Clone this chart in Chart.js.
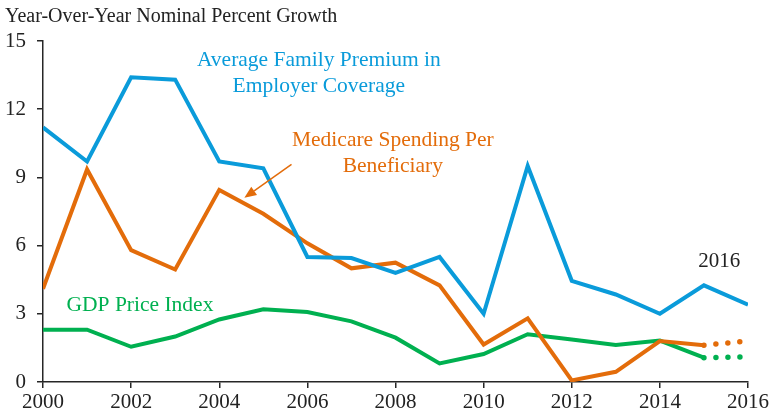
<!DOCTYPE html>
<html>
<head>
<meta charset="utf-8">
<script src="https://cdn.jsdelivr.net/npm/chart.js@4"></script>
<style>
  html, body { margin: 0; padding: 0; background: #fff; }
  #wrap { width: 771px; height: 419px; position: relative; }
</style>
</head>
<body>
<div id="wrap"><canvas id="chart" width="771" height="419"></canvas></div>
<script>
// --- Data ---
const years = [2000, 2001, 2002, 2003, 2004, 2005, 2006, 2007, 2008, 2009, 2010, 2011, 2012, 2013, 2014, 2015, 2016];
const familyPremium = [11.2, 9.7, 13.4, 13.3, 9.7, 9.4, 5.5, 5.45, 4.8, 5.5, 3.0, 9.5, 4.45, 3.85, 3.0, 4.25, 3.4];
const medicareSpending = [4.1, 9.35, 5.8, 4.95, 8.45, 7.4, 6.1, 5.0, 5.25, 4.25, 1.65, 2.8, 0.07, 0.45, 1.8, 1.62, null];
const medicareProjected = [null, null, null, null, null, null, null, null, null, null, null, null, null, null, null, 1.62, 1.8];
const gdpPriceIndex = [2.3, 2.3, 1.55, 2.0, 2.75, 3.2, 3.08, 2.67, 1.95, 0.82, 1.23, 2.1, 1.87, 1.63, 1.82, 1.07, null];
const gdpProjected = [null, null, null, null, null, null, null, null, null, null, null, null, null, null, null, 1.07, 1.1];
const yTicks = [0, 3, 6, 9, 12, 15];
const xTicks = [2000, 2002, 2004, 2006, 2008, 2010, 2012, 2014, 2016];

const BLUE = '#0A9BDA';
const ORANGE = '#E36C0A';
const GREEN = '#00B050';
const AXIS = '#262626';
const FONT = '"Liberation Serif", "Times New Roman", serif';

const toPoints = (arr) => years.map((x, i) => ({ x: x, y: arr[i] }));

// text labels, placed in data units (year, percent)
const notes = [
    { text: 'Average Family Premium in', x: 2006.26, y: 14.15, color: BLUE, size: 21.5 },
    { text: 'Employer Coverage', x: 2006.26, y: 13.0, color: BLUE, size: 21.5 },
    { text: 'Medicare Spending Per', x: 2007.94, y: 10.62, color: ORANGE, size: 21.5 },
    { text: 'Beneficiary', x: 2007.94, y: 9.5, color: ORANGE, size: 21.5 },
    { text: 'GDP Price Index', x: 2002.2, y: 3.35, color: GREEN, size: 21.5 },
    { text: '2016', x: 2015.35, y: 5.3, color: '#222', size: 21 }
];
const arrow = { from: [2005.64, 9.57], to: [2004.57, 8.1], color: ORANGE };

const annotationPlugin = {
    id: 'annotations',
    afterDraw(chart) {
        const ctx = chart.ctx;
        const xs = chart.scales.x, ys = chart.scales.y;
        ctx.save();
        // title
        ctx.font = '20px ' + FONT;
        ctx.fillStyle = '#222';
        ctx.textAlign = 'left';
        ctx.textBaseline = 'alphabetic';
        ctx.fillText('Year-Over-Year Nominal Percent Growth', 5, 22);

        ctx.textAlign = 'center';
        ctx.textBaseline = 'middle';
        notes.forEach(n => {
            ctx.font = n.size + 'px ' + FONT;
            ctx.fillStyle = n.color;
            ctx.fillText(n.text, xs.getPixelForValue(n.x), ys.getPixelForValue(n.y));
        });

        // arrow
        const x1 = xs.getPixelForValue(arrow.from[0]), y1 = ys.getPixelForValue(arrow.from[1]);
        const x2 = xs.getPixelForValue(arrow.to[0]), y2 = ys.getPixelForValue(arrow.to[1]);
        const ang = Math.atan2(y2 - y1, x2 - x1);
        const headLen = 12, headW = 5;
        const bx = x2 - headLen * Math.cos(ang), by = y2 - headLen * Math.sin(ang);
        ctx.strokeStyle = arrow.color;
        ctx.fillStyle = arrow.color;
        ctx.lineWidth = 1.5;
        ctx.beginPath();
        ctx.moveTo(x1, y1);
        ctx.lineTo(bx, by);
        ctx.stroke();
        ctx.beginPath();
        ctx.moveTo(x2, y2);
        ctx.lineTo(bx + headW * Math.sin(ang), by - headW * Math.cos(ang));
        ctx.lineTo(bx - headW * Math.sin(ang), by + headW * Math.cos(ang));
        ctx.closePath();
        ctx.fill();
        ctx.restore();
    }
};

const solid = (data, color) => ({
    data: toPoints(data),
    borderColor: color,
    backgroundColor: color,
    borderWidth: 4,
    pointRadius: 0,
    tension: 0,
    spanGaps: false
});
const dotted = (data, color) => ({
    data: toPoints(data),
    borderColor: color,
    backgroundColor: color,
    borderWidth: 5.5,
    borderDash: [0, 12],
    borderCapStyle: 'round',
    pointRadius: 0,
    tension: 0
});

new Chart(document.getElementById('chart'), {
    type: 'line',
    data: {
        datasets: [
            solid(familyPremium, BLUE),
            solid(medicareSpending, ORANGE),
            dotted(medicareProjected, ORANGE),
            solid(gdpPriceIndex, GREEN),
            dotted(gdpProjected, GREEN)
        ]
    },
    options: {
        responsive: false,
        animation: false,
        layout: { padding: { top: 41, right: 23, bottom: 0, left: 0 } },
        plugins: {
            legend: { display: false },
            title: { display: false },
            tooltip: { enabled: false }
        },
        scales: {
            x: {
                type: 'linear',
                min: 2000,
                max: 2016,
                afterFit: (s) => { s.height = 37; },
                afterBuildTicks: (s) => { s.ticks = xTicks.map(v => ({ value: v })); },
                ticks: {
                    callback: (v) => String(v),
                    color: '#222',
                    font: { family: FONT, size: 21 },
                    padding: 2,
                    maxRotation: 0,
                    autoSkip: false
                },
                grid: { drawOnChartArea: false, drawTicks: true, tickLength: 6, color: AXIS, lineWidth: 1.5 },
                border: { display: true, color: AXIS, width: 1.5 }
            },
            y: {
                min: 0,
                max: 15,
                afterFit: (s) => { s.width = 43; },
                afterBuildTicks: (s) => { s.ticks = yTicks.map(v => ({ value: v })); },
                ticks: {
                    color: '#222',
                    font: { family: FONT, size: 21 },
                    padding: 11
                },
                grid: { drawOnChartArea: false, drawTicks: true, tickLength: 6, color: AXIS, lineWidth: 1.5 },
                border: { display: true, color: AXIS, width: 1.5 }
            }
        }
    },
    plugins: [annotationPlugin]
});
</script>
</body>
</html>
